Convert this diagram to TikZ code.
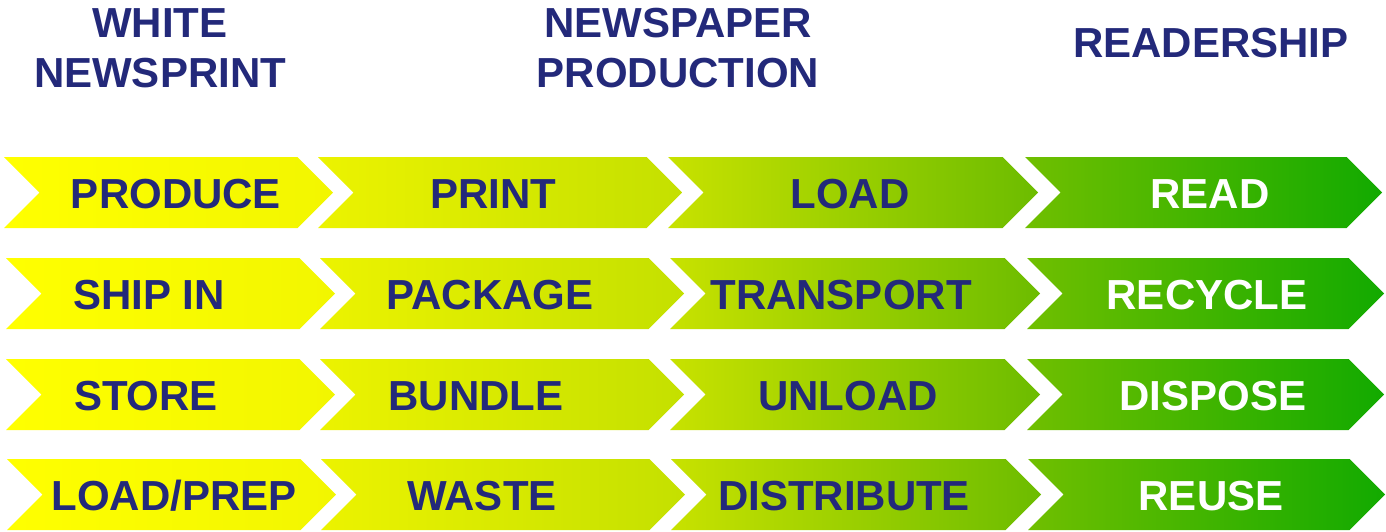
\documentclass[tikz,border=0pt]{standalone}
\usepackage{fontspec}
\setmainfont{Liberation Sans}
\definecolor{navy}{HTML}{23297A}
\definecolor{caL}{HTML}{FFFF00}\definecolor{caR}{HTML}{F2F600}
\definecolor{cbL}{HTML}{ECF300}\definecolor{cbR}{HTML}{C4E000}
\definecolor{ccL}{HTML}{C8E200}\definecolor{ccR}{HTML}{6CBC00}
\definecolor{cdL}{HTML}{70BF00}\definecolor{cdR}{HTML}{12AA00}
\newcommand{\chev}[5]{% left, tip, top y, left color, right color
  \shade[left color=#4,right color=#5]
    (#1,#3) -- ({#2-35.5},#3) -- (#2,{#3+35.5}) -- ({#2-35.5},{#3+71}) -- (#1,{#3+71}) -- ({#1+35.5},{#3+35.5}) -- cycle;}
\begin{document}
\begin{tikzpicture}[x=1pt,y=-1pt,
  lbl/.style={font=\fontsize{42}{42}\bfseries\selectfont,text=navy,inner sep=0pt,anchor=center},
  wlbl/.style={lbl,text=white},
  hdr/.style={font=\fontsize{42}{50}\bfseries\selectfont,text=navy,inner sep=0pt,align=center}]
\useasboundingbox (0,0) rectangle (1386,531);
\foreach \yy/\dx in {157/0,258/2,359/2,459/3}{
  \chev{4+\dx}{333+\dx}{\yy}{caL}{caR}
  \chev{318+\dx}{682+\dx}{\yy}{cbL}{cbR}
  \chev{668+\dx}{1038+\dx}{\yy}{ccL}{ccR}
  \chev{1025+\dx}{1382+\dx}{\yy}{cdL}{cdR}
}
\node[hdr] (h1) at (160,48) {WHITE\\NEWSPRINT};
\node[hdr] (h2) at (678,48) {NEWSPAPER\\PRODUCTION};
\node[hdr] (h3) at (1211,43) {READERSHIP};
\node[lbl] (a1) at (176,194) {PRODUCE};
\node[lbl] (a2) at (149,295) {SHIP IN};
\node[lbl] (a3) at (146,396) {STORE};
\node[lbl] (a4) at (174,496) {LOAD/PREP};
\node[lbl] (b1) at (493,194) {PRINT};
\node[lbl] (b2) at (490,295) {PACKAGE};
\node[lbl] (b3) at (476,396) {BUNDLE};
\node[lbl] (b4) at (482,496) {WASTE};
\node[lbl] (c1) at (850,194) {LOAD};
\node[lbl] (c2) at (841,295) {TRANSPORT};
\node[lbl] (c3) at (848,396) {UNLOAD};
\node[lbl] (c4) at (844,496) {DISTRIBUTE};
\node[wlbl] (d1) at (1210,194) {READ};
\node[wlbl] (d2) at (1207,295) {RECYCLE};
\node[wlbl] (d3) at (1213,396) {DISPOSE};
\node[wlbl] (d4) at (1211,496) {REUSE};
\end{tikzpicture}
\end{document}
